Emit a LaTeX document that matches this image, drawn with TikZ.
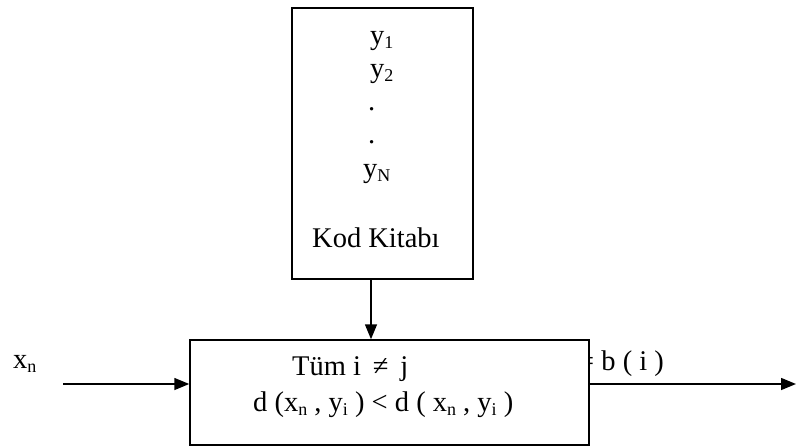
\documentclass[tikz,border=0pt]{standalone}
\usepackage{fontspec}
\setmainfont{Liberation Serif}
\usetikzlibrary{arrows.meta}
\newcommand{\lowsub}[1]{\raisebox{-4pt}{\fontsize{18}{18}\selectfont #1}}
\begin{document}
\begin{tikzpicture}[x=1pt,y=-1pt,
  box/.style={draw,fill=white,line width=1.5pt,inner sep=0pt},
  conn/.style={line width=1.5pt,-{Triangle[length=15pt,width=12pt]}},
  lbl/.style={anchor=base west,inner sep=0pt,font=\fontsize{28.5}{32}\selectfont}]
\useasboundingbox (0,0) rectangle (796,447);
\node[lbl] (bi) at (578,370) {= b ( i )};
\node[box,minimum width=181pt,minimum height=271pt] (book) at (382.5,143.5) {};
\node[box,minimum width=399pt,minimum height=105pt] (proc) at (389.5,392.5) {};
\node[lbl] (y1) at (370,44) {y\lowsub{1}};
\node[lbl] (y2) at (370,77) {y\lowsub{2}};
\node[lbl] (d1) at (368,110) {.};
\node[lbl] (d2) at (368,143) {.};
\node[lbl] (yN) at (363,177) {y\lowsub{N}};
\node[lbl] (kk) at (312,247) {Kod Kitabı};
\node[lbl] (tum) at (292,375) {Tüm i \,≠\, j};
\node[lbl] (dist) at (253,411) {d (x\lowsub{n} , y\lowsub{i} ) < d ( x\lowsub{n} , y\lowsub{i} )};
\node[lbl] (xn) at (13,368) {x\lowsub{n}};
\coordinate (bk) at (371,279);
\coordinate (in) at (63,384);
\coordinate (out) at (796,384);
\draw[conn] (bk) -- (bk |- proc.north);
\draw[conn] (in) -- (in -| proc.west);
\draw[conn] (out -| proc.east) -- (out);
\end{tikzpicture}
\end{document}
